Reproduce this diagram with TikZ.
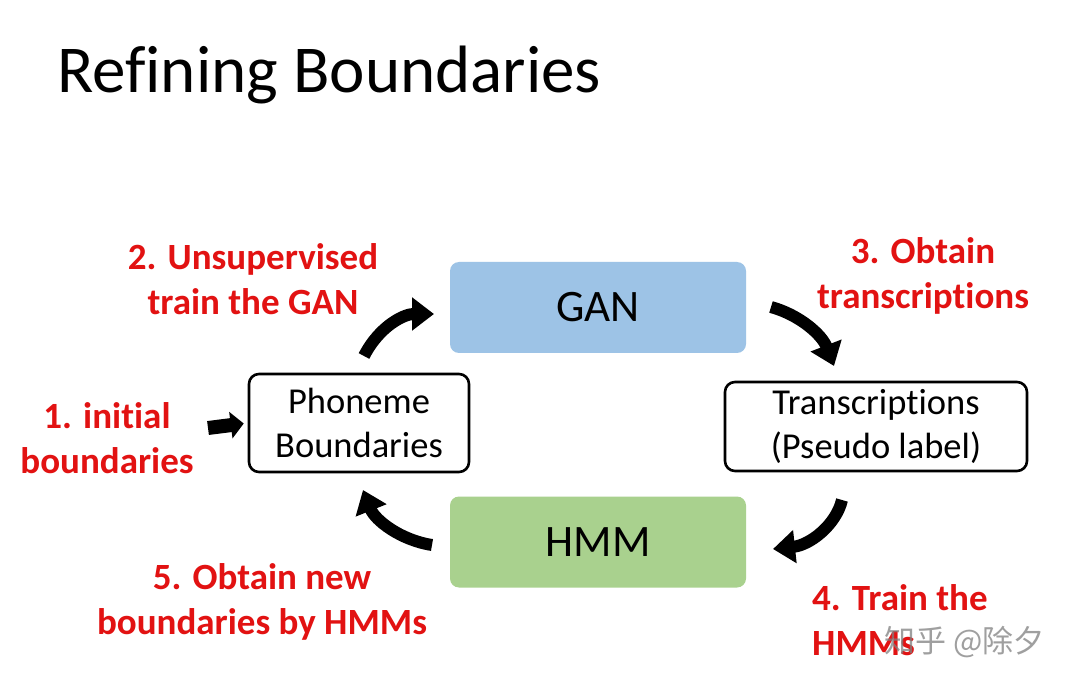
\documentclass[tikz,border=0pt]{standalone}
\usepackage{fontspec}
\setmainfont{Carlito}[Ligatures={NoCommon,NoContextual,NoRare},Contextuals=NoAlternate]
\newfontfamily\cjkfont{Noto Sans CJK SC}
\usetikzlibrary{arrows.meta}
\definecolor{lblred}{RGB}{226,18,18}
\definecolor{ganblue}{RGB}{157,195,230}
\definecolor{hmmgreen}{RGB}{169,209,142}
\begin{document}
\begin{tikzpicture}[x=1pt,y=-1pt,
  redlbl/.style={text=lblred, font=\fontsize{37}{44.5}\selectfont\bfseries, align=center, inner sep=0pt},
  fillbox/.style={rounded corners=9pt, draw=none, minimum width=296pt, minimum height=91pt, font=\fontsize{45}{50}\selectfont, inner sep=0pt},
  linebox/.style={rounded corners=10pt, draw=black, line width=2.6pt, font=\fontsize{36.5}{44}\selectfont, align=center, inner sep=0pt},
  bigarrow/.style={line width=12pt, -{Triangle[length=22pt,width=32pt]}},
  smallarrow/.style={line width=14pt, -{Triangle[length=13pt,width=26pt]}}
]
\useasboundingbox[fill=white] (0,0) rectangle (1080,687);

% title
\node[anchor=base west, inner sep=0pt, font=\fontsize{67}{70}\selectfont] (title) at (57,93) {Refining Boundaries};

% boxes
\node[fillbox, fill=ganblue] (gan) at (598,307.5) {GAN};
\node[fillbox, fill=hmmgreen] (hmm) at (598,542) {HMM};
\node[linebox, minimum width=220pt, minimum height=98pt] (pb) at (359,423) {Phoneme\\Boundaries};
\node[linebox, minimum width=302pt, minimum height=89pt] (tr) at (876,426.5) {Transcriptions\\(Pseudo label)};

% red labels
\node[redlbl] (l1) at (107,438) {1. initial\\boundaries};
\node[redlbl] (l2) at (253,279) {2. Unsupervised\\train the GAN};
\node[redlbl] (l3) at (923,276) {3. Obtain\\transcriptions};
\node[redlbl, align=left, anchor=west] (l4) at (812,620) {4. Train the\\HMMs};
\node[redlbl] (l5) at (262,602) {5. Obtain new\\boundaries by HMMs};

% arrows
\coordinate (a0s) at (208,428);
\draw[smallarrow, shorten >=4pt] (a0s) -- (pb.west);

\coordinate (a1s) at (364,356);
\coordinate (a1e) at (434,314);
\draw[bigarrow] (a1s) .. controls (380,325) and (405,314) .. (a1e);

\coordinate (a2s) at (771,307);
\coordinate (a2e) at (834,366);
\draw[bigarrow] (a2s) .. controls (800,315) and (822,335) .. (a2e);

\coordinate (a3s) at (842,500);
\coordinate (a3e) at (773,549);
\draw[bigarrow] (a3s) .. controls (836,525) and (810,545) .. (a3e);

\coordinate (a4s) at (432,545);
\coordinate (a4e) at (363,490);
\draw[bigarrow] (a4s) .. controls (400,540) and (375,520) .. (a4e);

% watermark (overlaps "HMMs" as in the original)
\node[anchor=west, inner sep=0pt, text=gray, opacity=0.75, font=\cjkfont\fontsize{31}{34}\selectfont] (wm) at (884,642) {知乎 @除夕};
\end{tikzpicture}
\end{document}
